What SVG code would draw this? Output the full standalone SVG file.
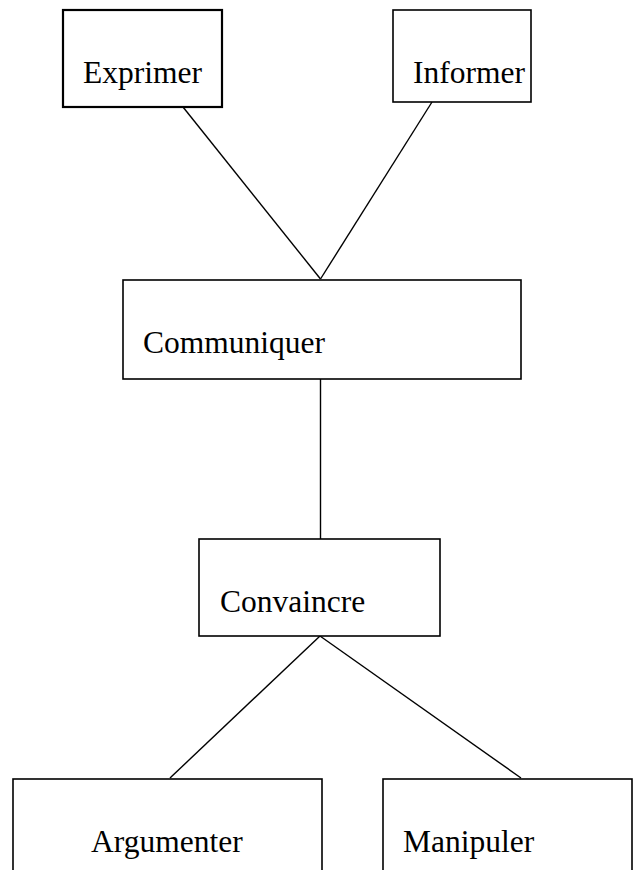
<svg xmlns="http://www.w3.org/2000/svg" width="634" height="870" viewBox="0 0 634 870">
<style>
.box{fill:#fff;stroke:#000;stroke-width:1.6}
.thick{stroke-width:2.2}
.lbl{font-family:"Liberation Serif","Times New Roman",serif;font-size:31.5px;fill:#000}
.con{stroke:#000;stroke-width:1.4;fill:none}
</style>
<g id="connectors">
<line class="con" x1="183" y1="107" x2="320.5" y2="279"/>
<line class="con" x1="432" y1="102" x2="320.5" y2="279"/>
<line class="con" x1="320.5" y1="379" x2="320.5" y2="539"/>
<line class="con" x1="320" y1="636" x2="170" y2="778"/>
<line class="con" x1="320" y1="636" x2="521" y2="778"/>
</g>
<g id="exprimer"><rect class="box thick" x="63" y="10" width="159" height="97"/><text class="lbl" x="83" y="83">Exprimer</text></g>
<g id="informer"><rect class="box" x="393" y="10" width="138" height="92"/><text class="lbl" x="413" y="83">Informer</text></g>
<g id="communiquer"><rect class="box" x="123" y="280" width="398" height="99"/><text class="lbl" x="143" y="353">Communiquer</text></g>
<g id="convaincre"><rect class="box" x="199" y="539" width="241" height="97"/><text class="lbl" x="220" y="612">Convaincre</text></g>
<g id="argumenter"><rect class="box" x="13" y="779" width="309" height="120"/><text class="lbl" x="91" y="852">Argumenter</text></g>
<g id="manipuler"><rect class="box" x="383" y="779" width="249" height="120"/><text class="lbl" x="403" y="852">Manipuler</text></g>
</svg>
